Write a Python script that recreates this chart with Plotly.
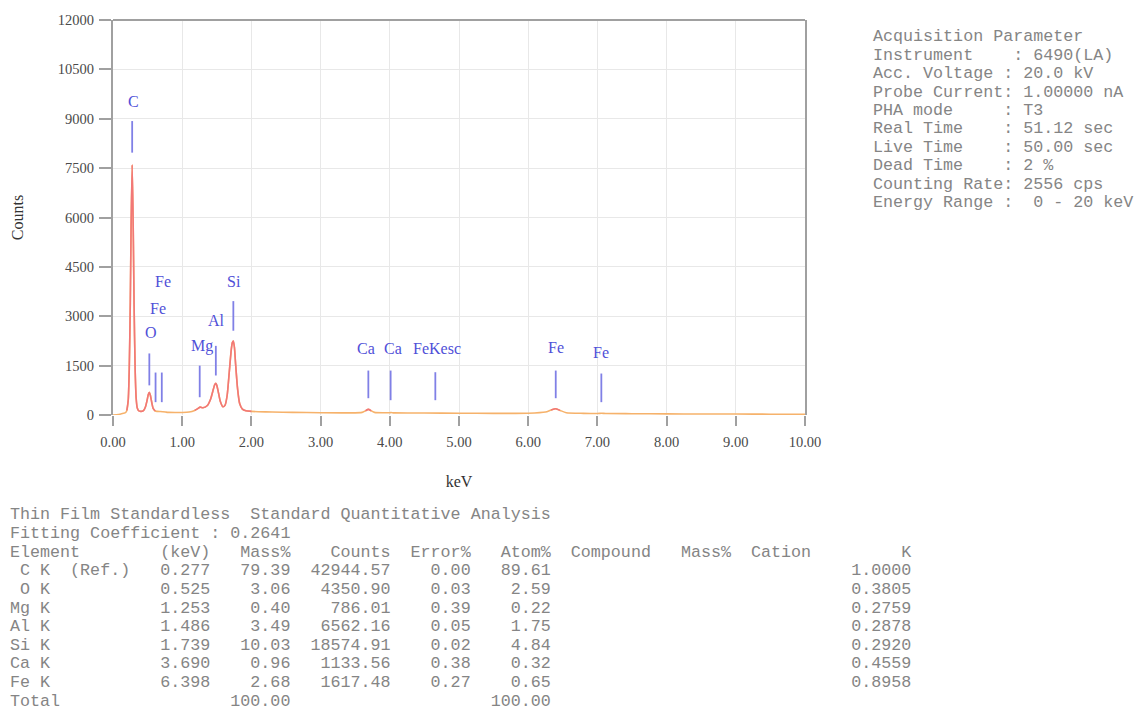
import plotly.graph_objects as go

# ---------------- spectrum data ----------------
keV = [0.00, 0.05, 0.10, 0.15, 0.18, 0.20, 0.22, 0.235, 0.25, 0.262, 0.277, 0.292, 0.305, 0.32, 0.335,
       0.35, 0.37, 0.40, 0.44, 0.47, 0.49, 0.51, 0.525, 0.54, 0.56, 0.58, 0.61, 0.64, 0.68, 0.72,
       0.76, 0.80, 0.90, 1.00, 1.10, 1.18, 1.23, 1.26, 1.30, 1.36, 1.41, 1.45, 1.47, 1.486, 1.50,
       1.52, 1.55, 1.59, 1.62, 1.65, 1.68, 1.71, 1.725, 1.739, 1.755, 1.77, 1.80, 1.83, 1.87, 1.92,
       2.00, 2.10, 2.30, 2.60, 3.00, 3.40, 3.60, 3.65, 3.69, 3.73, 3.78, 4.00, 4.02, 4.06, 4.50,
       5.00, 5.50, 6.00, 6.25, 6.33, 6.398, 6.46, 6.55, 6.80, 7.00, 7.06, 7.12, 7.50, 8.00, 8.50,
       9.00, 9.50, 10.00]
counts = [0, 10, 25, 50, 70, 140, 450, 1400, 3400, 5800, 7600, 5700, 3300, 1400, 500,
          220, 130, 110, 130, 250, 420, 620, 690, 600, 380, 200, 120, 110, 105, 100,
          90, 80, 75, 75, 90, 140, 200, 240, 220, 280, 480, 780, 920, 960, 900,
          720, 420, 250, 300, 600, 1300, 2000, 2200, 2250, 2050, 1600, 800, 350, 180, 130,
          110, 100, 90, 80, 70, 65, 80, 130, 170, 130, 80, 70, 75, 65, 60,
          55, 50, 55, 90, 150, 190, 140, 70, 50, 45, 55, 45, 40, 35, 30,
          30, 25, 20]

# ---------------- element marker lines ----------------
marker_keV = [0.277, 0.525, 0.615, 0.705, 1.253, 1.486, 1.739, 3.690, 4.012, 4.658, 6.398, 7.057]
marker_top = [8930, 1870, 1290, 1290, 1500, 2100, 3460, 1350, 1350, 1300, 1350, 1260]
marker_bot = [7970, 900, 390, 390, 540, 1200, 2560, 510, 450, 450, 510, 390]

label_text = ["C", "O", "Fe", "Fe", "Mg", "Al", "Si", "Ca", "Ca", "FeKesc", "Fe", "Fe"]
label_keV = [0.29, 0.55, 0.65, 0.72, 1.28, 1.50, 1.75, 3.66, 4.05, 4.68, 6.40, 7.05]
label_cnt = [9530, 2500, 3250, 4060, 2100, 2860, 4060, 2010, 2010, 2010, 2040, 1900]

# ---------------- axis ticks ----------------
x_ticks = [0, 1, 2, 3, 4, 5, 6, 7, 8, 9, 10]
x_ticklabels = ["0.00", "1.00", "2.00", "3.00", "4.00", "5.00", "6.00", "7.00", "8.00", "9.00", "10.00"]
y_ticks = [0, 1500, 3000, 4500, 6000, 7500, 9000, 10500, 12000]
y_ticklabels = ["0", "1500", "3000", "4500", "6000", "7500", "9000", "10500", "12000"]

# ---------------- acquisition parameters ----------------
acq_lines = [
    "Acquisition Parameter",
    "Instrument    : 6490(LA)",
    "Acc. Voltage : 20.0 kV",
    "Probe Current: 1.00000 nA",
    "PHA mode     : T3",
    "Real Time    : 51.12 sec",
    "Live Time    : 50.00 sec",
    "Dead Time    : 2 %",
    "Counting Rate: 2556 cps",
    "Energy Range :  0 - 20 keV",
]

# ---------------- quantitative table ----------------
tbl_title = "Thin Film Standardless  Standard Quantitative Analysis"
tbl_fit = "Fitting Coefficient : 0.2641"
elements = [" C K  (Ref.)", " O K", "Mg K", "Al K", "Si K", "Ca K", "Fe K"]
el_keV = [0.277, 0.525, 1.253, 1.486, 1.739, 3.690, 6.398]
el_mass = [79.39, 3.06, 0.40, 3.49, 10.03, 0.96, 2.68]
el_counts = [42944.57, 4350.90, 786.01, 6562.16, 18574.91, 1133.56, 1617.48]
el_error = [0.00, 0.03, 0.39, 0.05, 0.02, 0.38, 0.27]
el_atom = [89.61, 2.59, 0.22, 1.75, 4.84, 0.32, 0.65]
el_k = [1.0000, 0.3805, 0.2759, 0.2878, 0.2920, 0.4559, 0.8958]
total_mass = 100.00
total_atom = 100.00

# ---------------- layout geometry (pixels) ----------------
W, H = 1140, 715
L, R, T, B = 113, 805, 16, 415


def px(x):
    return (x - L) / (R - L)


def py(y):
    return (B - y) / (B - T)


fig = go.Figure()

# full spectrum in orange, peak portions overlaid in red
fig.add_trace(go.Scatter(x=keV, y=counts, mode="lines",
                         line=dict(color="#f6b26b", width=1.6, shape="spline", smoothing=0.6),
                         hoverinfo="skip", showlegend=False))
thr = 130
red_y = []
for i, c in enumerate(counts):
    nbv = [counts[j] for j in (i - 1, i, i + 1) if 0 <= j < len(counts)]
    red_y.append(c if max(nbv) >= thr and c >= 100 else None)
fig.add_trace(go.Scatter(x=keV, y=red_y, mode="lines", connectgaps=False,
                         line=dict(color="#f27777", width=1.6, shape="spline", smoothing=0.6),
                         hoverinfo="skip", showlegend=False))

# marker lines
for e, t, b in zip(marker_keV, marker_top, marker_bot):
    fig.add_trace(go.Scatter(x=[e, e], y=[b, t], mode="lines",
                             line=dict(color="#8080e6", width=1.8),
                             hoverinfo="skip", showlegend=False))

for txt, e, c in zip(label_text, label_keV, label_cnt):
    fig.add_annotation(x=e, y=c, text=txt, showarrow=False, xanchor="center", yanchor="middle",
                       font=dict(family="Liberation Serif", size=16, color="#5050d8"))

mono = dict(family="Liberation Mono", size=16.7, color="#858585")


def nb(s):
    return s.replace(" ", "\u00a0")


for i, line in enumerate(acq_lines):
    fig.add_annotation(xref="paper", yref="paper", x=px(871), y=py(33 + 18.6 * i),
                       text=nb(line), showarrow=False, xanchor="left", yanchor="middle", font=mono)

tbl_lines = [tbl_title, tbl_fit]
header = (f"{'Element':<15}{'(keV)':>5}{'Mass%':>8}{'Counts':>10}{'Error%':>8}{'Atom%':>8}"
          + "  Compound" + "   Mass%" + "  Cation" + f"{'K':>10}")
tbl_lines.append(header)
for el, kv, m, cn, er, at, k in zip(elements, el_keV, el_mass, el_counts, el_error, el_atom, el_k):
    tbl_lines.append(f"{el:<12}{kv:>8.3f}{m:>8.2f}{cn:>10.2f}{er:>8.2f}{at:>8.2f}" + " " * 26 + f"{k:>10.4f}")
tbl_lines.append(f"{'Total':<20}{total_mass:>8.2f}" + " " * 18 + f"{total_atom:>8.2f}")

for i, line in enumerate(tbl_lines):
    fig.add_annotation(xref="paper", yref="paper", x=px(8), y=py(516 + 18.8 * i),
                       text=nb(line), showarrow=False, xanchor="left", yanchor="middle", font=mono)

# top frame line
fig.add_shape(type="line", xref="paper", yref="paper", x0=0, x1=1, y0=1, y1=1,
              line=dict(color="#a0a0a0", width=2))

axis_font = dict(family="Liberation Serif", size=14.5, color="#4a4a4a")

fig.update_xaxes(range=[0, 10], tickvals=x_ticks, ticktext=x_ticklabels,
                 showgrid=True, gridcolor="#e8e8e8", gridwidth=1,
                 zeroline=False, showline=False,
                 ticks="outside", ticklen=10, tickwidth=2, tickcolor="#a0a0a0",
                 tickfont=axis_font, ticklabelstandoff=4,
                 title=dict(text="keV", font=dict(family="Liberation Serif", size=16, color="#333333"),
                            standoff=26))
fig.update_yaxes(range=[0, 12000], tickvals=y_ticks, ticktext=y_ticklabels,
                 showgrid=True, gridcolor="#e8e8e8", gridwidth=1,
                 zeroline=False, showline=True, mirror=True, linecolor="#a0a0a0", linewidth=2,
                 ticks="outside", ticklen=12, tickwidth=2, tickcolor="#a0a0a0",
                 tickfont=axis_font, ticklabelstandoff=2,
                 title=dict(text="Counts", font=dict(family="Liberation Serif", size=16, color="#333333"),
                            standoff=30))

fig.update_layout(width=W, height=H, autosize=False,
                  margin=dict(l=L, r=W - R, t=T, b=H - B, pad=0),
                  paper_bgcolor="white", plot_bgcolor="white", showlegend=False)

fig.write_html("out.html", config={"displayModeBar": False},
               post_script="document.body.style.margin='0';document.body.style.overflow='hidden';")
